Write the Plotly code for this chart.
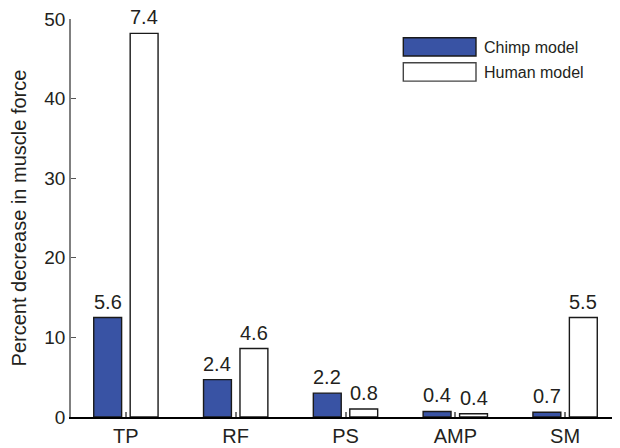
import plotly.graph_objects as go

categories = ["TP", "RF", "PS", "AMP", "SM"]
chimp_values = [12.5, 4.7, 3.0, 0.7, 0.6]
human_values = [48.2, 8.6, 1.0, 0.4, 12.5]
chimp_labels = ["5.6", "2.4", "2.2", "0.4", "0.7"]
human_labels = ["7.4", "4.6", "0.8", "0.4", "5.5"]
y_ticks = [0, 10, 20, 30, 40, 50]

FONT = "Arial, Liberation Sans, sans-serif"
TXT = "#231f20"
BLUE = "#3953a4"
BAR_W = 0.254
CHIMP_OFF = -0.293
HUMAN_OFF = 0.039

xs = list(range(len(categories)))

fig = go.Figure()
fig.add_trace(go.Bar(
    x=xs, y=chimp_values, name="Chimp model",
    width=BAR_W, offset=CHIMP_OFF,
    marker=dict(color=BLUE, line=dict(color="#1a1a1a", width=1.4)),
    showlegend=False,
))
fig.add_trace(go.Bar(
    x=xs, y=human_values, name="Human model",
    width=BAR_W, offset=HUMAN_OFF,
    marker=dict(color="white", line=dict(color="#1a1a1a", width=1.4)),
    showlegend=False,
))

annotations = []
for i in xs:
    annotations.append(dict(x=i + CHIMP_OFF + BAR_W / 2, y=chimp_values[i], xref="x", yref="y",
                            text=chimp_labels[i], showarrow=False, yanchor="bottom",
                            yshift=4, borderpad=0, font=dict(family=FONT, size=20, color=TXT)))
    annotations.append(dict(x=i + HUMAN_OFF + BAR_W / 2, y=human_values[i], xref="x", yref="y",
                            text=human_labels[i], showarrow=False, yanchor="bottom",
                            yshift=4, borderpad=0, font=dict(family=FONT, size=20, color=TXT)))

# legend drawn as layout shapes + text
legend_items = [("Chimp model", BLUE, "#1a1a1a", 0.907, 0.953, 0.9296),
                ("Human model", "white", "#444444", 0.844, 0.890, 0.8668)]
shapes = []
for name, fill, line, y0, y1, ty in legend_items:
    shapes.append(dict(type="rect", xref="paper", yref="paper", x0=0.6053, x1=0.7377,
                       y0=y0, y1=y1, fillcolor=fill, line=dict(color=line, width=1.4)))
    annotations.append(dict(x=0.748, y=ty, xref="paper", yref="paper", text=name,
                            showarrow=False, xanchor="left", yanchor="middle",
                            font=dict(family=FONT, size=16, color=TXT)))

# page body has an 8px margin, so the figure is sized/positioned to compensate
fig.update_layout(
    width=612, height=440,
    margin=dict(l=63, r=0, t=11, b=31),
    paper_bgcolor="white", plot_bgcolor="white",
    barmode="overlay",
    font=dict(family=FONT, color=TXT),
    annotations=annotations,
    shapes=shapes,
)
fig.update_xaxes(
    range=[-0.5, 4.5], tickvals=xs, ticktext=categories,
    showline=True, linecolor="#000000", linewidth=1.5,
    ticks="inside", ticklen=5, tickcolor="#777777", tickwidth=1.5,
    tickfont=dict(family=FONT, size=20, color=TXT),
    showgrid=False, zeroline=False, fixedrange=True,
)
fig.update_yaxes(
    range=[0, 50], tickvals=y_ticks,
    showline=True, linecolor="#808080", linewidth=1.5,
    ticks="inside", ticklen=5, tickcolor="#555555", tickwidth=1.2,
    tickfont=dict(family=FONT, size=19, color=TXT),
    title=dict(text="Percent decrease in muscle force", font=dict(family=FONT, size=20, color=TXT), standoff=13),
    showgrid=False, zeroline=False, fixedrange=True,
)

fig.write_html("out.html")
